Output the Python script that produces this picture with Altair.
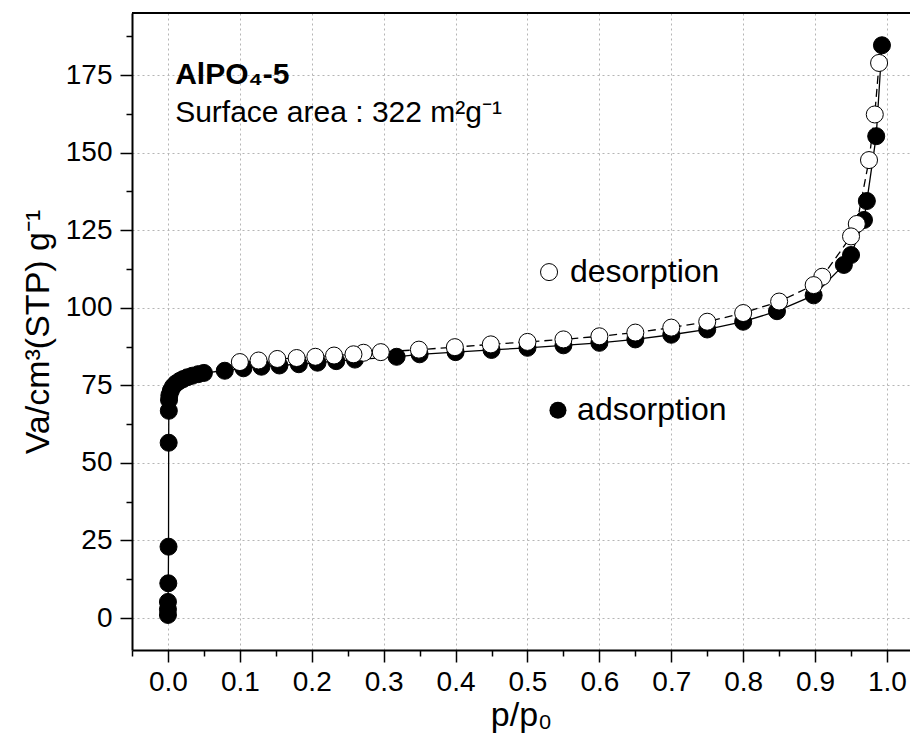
import altair as alt
import pandas as pd

# ---- data ----
ads_x = [0.0, 0.0, 0.0, 0.0005, 0.0008, 0.001, 0.0012, 0.0015, 0.002, 0.004, 0.007, 0.011,
         0.016, 0.021, 0.027, 0.034, 0.042, 0.05, 0.079, 0.105, 0.13, 0.155, 0.182, 0.208,
         0.234, 0.26, 0.318, 0.35, 0.4, 0.45, 0.5, 0.55, 0.6, 0.65, 0.7, 0.75, 0.8, 0.847,
         0.898, 0.94, 0.95, 0.968, 0.972, 0.985, 0.993]
ads_y = [1.0, 2.8, 5.2, 11.2, 23.0, 56.5, 66.8, 70.3, 71.8, 73.3, 74.6, 75.6,
         76.4, 77.0, 77.6, 78.1, 78.6, 79.0, 79.7, 80.5, 81.0, 81.4, 81.8, 82.3,
         82.8, 83.3, 84.2, 85.0, 85.7, 86.4, 87.1, 87.9, 88.7, 89.8, 91.3, 93.0, 95.5, 98.9,
         104.0, 113.8, 117.0, 128.3, 134.4, 155.3, 184.6]

des_x = [0.989, 0.983, 0.975, 0.958, 0.95, 0.91, 0.898, 0.85, 0.8, 0.75, 0.7, 0.65, 0.6,
         0.55, 0.5, 0.449, 0.399, 0.349, 0.296, 0.272, 0.258, 0.231, 0.205, 0.179, 0.152,
         0.126, 0.1]
des_y = [178.9, 162.3, 147.6, 127.0, 123.0, 110.0, 107.3, 102.0, 98.3, 95.5, 93.6, 92.0, 90.8,
         89.8, 89.0, 88.2, 87.3, 86.5, 85.7, 85.5, 85.0, 84.6, 84.2, 83.8, 83.5,
         83.0, 82.5]

x_tick_values = [-0.05, 0.0, 0.05, 0.1, 0.15, 0.2, 0.25, 0.3, 0.35, 0.4, 0.45, 0.5, 0.55,
                 0.6, 0.65, 0.7, 0.75, 0.8, 0.85, 0.9, 0.95, 1.0]
y_tick_values = [0, 12.5, 25, 37.5, 50, 62.5, 75, 87.5, 100, 112.5, 125, 137.5, 150,
                 162.5, 175, 187.5]

title_text = ["AlPO₄-5"]
subtitle_text = ["Surface area : 322 m²g⁻¹"]
legend_labels = ["desorption", "adsorption"]

FONT = "Liberation Sans"
W, H = 778, 637
X_DOMAIN = [-0.05, 1.032]
Y_DOMAIN = [-10.3, 195.0]
MSIZE = 290

ads = pd.DataFrame({"p": ads_x, "v": ads_y, "i": list(range(len(ads_x)))})
des = pd.DataFrame({"p": des_x, "v": des_y, "i": list(range(len(des_x)))})

x_major = "abs(datum.value*10 - round(datum.value*10)) < 0.001"
y_major = "datum.value % 25 === 0"

xs = alt.Scale(domain=X_DOMAIN, nice=False, zero=False)
ys = alt.Scale(domain=Y_DOMAIN, nice=False, zero=False)

x_axis = alt.Axis(
    values=x_tick_values, title="p/p₀", labelExpr=f"{x_major} ? format(datum.value, '.1f') : ''",
    tickSize={"condition": {"test": x_major, "value": 12}, "value": 6},
    gridOpacity={"condition": {"test": x_major, "value": 1}, "value": 0},
    labelOverlap=False, labelBound=False, labelFlush=False, labelPadding=6,
    titlePadding=2, titleFontSize=34,
)
y_axis = alt.Axis(
    values=y_tick_values, title="Va/cm³(STP) g⁻¹",
    labelExpr=f"{y_major} ? format(datum.value, 'd') : ''",
    tickSize={"condition": {"test": y_major, "value": 12}, "value": 6},
    gridOpacity={"condition": {"test": y_major, "value": 1}, "value": 0},
    labelOverlap=False, labelBound=False, labelFlush=False, labelPadding=8,
    titlePadding=10, titleFontSize=34,
)

X = alt.X("p:Q", scale=xs, axis=x_axis, title="p/p₀")
Y = alt.Y("v:Q", scale=ys, axis=y_axis, title="Va/cm³(STP) g⁻¹")

ads_line = alt.Chart(ads).mark_line(color="black", strokeWidth=1.3).encode(x=X, y=Y, order="i:Q")
des_line = alt.Chart(des).mark_line(color="black", strokeWidth=1.3, strokeDash=[8, 5]).encode(
    x=X, y=Y, order="i:Q")
ads_pts = alt.Chart(ads).mark_circle(size=MSIZE, color="black", opacity=1,
                                     stroke="black", strokeWidth=1).encode(x=X, y=Y)
des_pts = alt.Chart(des).mark_point(shape="circle", size=MSIZE, filled=True, fill="white",
                                    stroke="black", strokeWidth=1, opacity=1).encode(x=X, y=Y)

# annotations
ann = pd.DataFrame({"p": [0.01], "v": [175.0], "t": title_text})
ann2 = pd.DataFrame({"p": [0.01], "v": [162.7], "t": subtitle_text})
t1 = alt.Chart(ann).mark_text(align="left", baseline="middle", font=FONT, fontSize=30,
                              fontWeight="bold", color="black").encode(x=X, y=Y, text="t:N")
t2 = alt.Chart(ann2).mark_text(align="left", baseline="middle", font=FONT, fontSize=30,
                               color="black").encode(x=X, y=Y, text="t:N")

leg_sym_des = pd.DataFrame({"p": [0.53], "v": [111.5]})
leg_sym_ads = pd.DataFrame({"p": [0.5424], "v": [67.0]})
leg_txt = pd.DataFrame({"p": [0.559, 0.569], "v": [111.5, 67.0], "t": legend_labels})

l1 = alt.Chart(leg_sym_des).mark_point(shape="circle", size=MSIZE, filled=True, fill="white",
                                       stroke="black", strokeWidth=1, opacity=1).encode(x=X, y=Y)
l2 = alt.Chart(leg_sym_ads).mark_circle(size=MSIZE, color="black", opacity=1).encode(x=X, y=Y)
l3 = alt.Chart(leg_txt).mark_text(align="left", baseline="middle", font=FONT, fontSize=32,
                                  color="black").encode(x=X, y=Y, text="t:N")

top_border = alt.Chart(ann).mark_rule(color="black", strokeWidth=2).encode(
    x=alt.value(0), x2=alt.value(W), y=alt.value(0))

chart = alt.layer(
    ads_line, des_line, ads_pts, des_pts, t1, t2, l1, l2, l3, top_border
).properties(
    width=W, height=H,
    autosize=alt.AutoSizeParams(type="none"),
    padding={"left": 124, "top": 5, "right": 0, "bottom": 88},
).configure_view(stroke=None).configure_axis(
    labelFont=FONT, titleFont=FONT, labelFontSize=28, labelColor="black", titleColor="black",
    titleFontWeight="normal", domainColor="black", domainWidth=2, tickColor="black",
    tickWidth=1.5, gridColor="#b5b5b5", gridDash=[2, 3], gridWidth=1,
)

chart.save("out.html", embed_options={"renderer": "svg", "actions": False})
